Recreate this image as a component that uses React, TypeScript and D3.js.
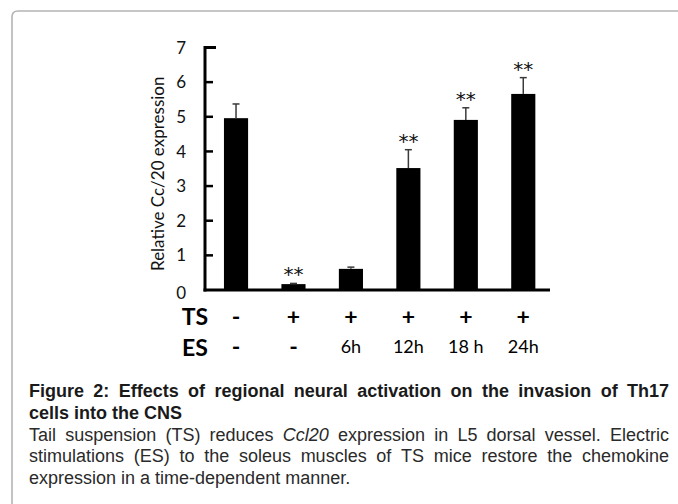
import React, { useMemo } from "react";
import * as d3 from "d3";

const categories = ["c1", "c2", "c3", "c4", "c5", "c6"];
const tsLabels = ["-", "+", "+", "+", "+", "+"];
const esLabels = ["-", "-", "6h", "12h", "18 h", "24h"];
const values = [4.96, 0.17, 0.61, 3.52, 4.91, 5.66];
const errors = [0.41, 0.02, 0.05, 0.53, 0.35, 0.47];
const significant = [false, true, false, true, true, true];
const yTicks = [0, 1, 2, 3, 4, 5, 6, 7];
const yTitle = "Relative Cc/20 expression";

const W = 678;
const H = 504;
const CHART_FONT = "Lato, 'Open Sans', sans-serif";
const CAP_FONT = "'Liberation Sans Narrow', 'Liberation Sans', Arial, sans-serif";

type Word = { t: string; italic?: boolean };

const captionLines: { words: Word[]; bold: boolean; justify: boolean }[] = [
  {
    words: "Figure 2: Effects of regional neural activation on the invasion of Th17".split(" ").map((t) => ({ t })),
    bold: true,
    justify: true,
  },
  { words: "cells into the CNS".split(" ").map((t) => ({ t })), bold: true, justify: false },
  {
    words: "Tail suspension (TS) reduces Ccl20 expression in L5 dorsal vessel. Electric"
      .split(" ")
      .map((t) => ({ t, italic: t === "Ccl20" })),
    bold: false,
    justify: true,
  },
  {
    words: "stimulations (ES) to the soleus muscles of TS mice restore the chemokine".split(" ").map((t) => ({ t })),
    bold: false,
    justify: true,
  },
  { words: "expression in a time-dependent manner.".split(" ").map((t) => ({ t })), bold: false, justify: false },
];

function layoutCaption(x0: number, x1: number, size: number) {
  const canvas = document.createElement("canvas");
  const ctx = canvas.getContext("2d")!;
  return captionLines.map((line) => {
    const widths = line.words.map((w) => {
      ctx.font = `${w.italic ? "italic " : ""}${line.bold ? "bold " : ""}${size}px ${CAP_FONT}`;
      return ctx.measureText(w.t).width;
    });
    ctx.font = `${line.bold ? "bold " : ""}${size}px ${CAP_FONT}`;
    const space = ctx.measureText(" ").width;
    const total = widths.reduce((a, b) => a + b, 0);
    const gap = line.justify && line.words.length > 1 ? (x1 - x0 - total) / (line.words.length - 1) : space;
    let x = x0;
    return line.words.map((w, i) => {
      const pos = x;
      x += widths[i] + gap;
      return { ...w, x: pos };
    });
  });
}

export default function App() {
  const y = d3.scaleLinear().domain([0, 7]).range([290, 47.5]);
  const x = d3
    .scaleBand<string>()
    .domain(categories)
    .range([207.3, 552])
    .paddingInner(0.58)
    .paddingOuter(0.29);
  const bw = x.bandwidth();
  const axisX = 205;
  const capSize = 18;
  const capLayout = useMemo(() => layoutCaption(29, 669, capSize), []);
  const baselines = [397, 418.5, 440.5, 462, 484];

  return (
    <svg
      width={W}
      height={H}
      style={{ position: "absolute", left: 0, top: 0, background: "#fff" }}
    >
      <rect x={0} y={0} width={W} height={H} fill="#fff" />
      {/* frame */}
      <path
        d={`M12,${H + 5} L12,17 Q12,11 18,11 L${W + 5},11`}
        fill="none"
        stroke="#b4b4b4"
        strokeWidth={1.6}
      />

      {/* bars */}
      {categories.map((c, i) => (
        <rect key={c} x={x(c)} y={y(values[i])} width={bw} height={y(0) - y(values[i])} fill="#000" />
      ))}

      {/* error bars */}
      {categories.map((c, i) => {
        const cx = (x(c) as number) + bw / 2;
        const top = y(values[i] + errors[i]);
        return (
          <g key={c} stroke="#3a3a3a" strokeWidth={1.5}>
            <line x1={cx} x2={cx} y1={y(values[i])} y2={top} />
            <line x1={cx - 3.5} x2={cx + 3.5} y1={top} y2={top} />
          </g>
        );
      })}

      {/* significance */}
      {categories.map((c, i) =>
        significant[i] ? (
          <text
            key={c}
            x={(x(c) as number) + bw / 2}
            y={y(values[i] + errors[i]) - 2}
            textAnchor="middle"
            fontFamily="'DejaVu Sans', sans-serif"
            fontSize={20}
            fill="#111"
          >
            **
          </text>
        ) : null
      )}

      {/* axes */}
      <line x1={axisX} x2={axisX} y1={y(0) + 1.5} y2={y(7) - 1.5} stroke="#000" strokeWidth={3} />
      <line x1={axisX - 1.5} x2={550} y1={y(0)} y2={y(0)} stroke="#000" strokeWidth={3} />
      {yTicks.map((t) => (
        <g key={t}>
          {t > 0 && (
            <line
              x1={axisX}
              x2={axisX + (t === 7 ? 11 : 8)}
              y1={y(t)}
              y2={y(t)}
              stroke="#000"
              strokeWidth={t === 7 ? 3 : 2.5}
            />
          )}
          <text
            x={186}
            y={y(t) + (t === 0 ? 3 : 0)}
            dy="0.36em"
            textAnchor="end"
            fontFamily={CHART_FONT}
            fontSize={17}
            fill="#111"
          >
            {t}
          </text>
        </g>
      ))}

      {/* y title */}
      <text
        transform={`translate(164,${(y(0) + y(7)) / 2 + 5}) rotate(-90)`}
        textAnchor="middle"
        fontFamily={CHART_FONT}
        fontSize={17}
        fill="#111"
      >
        {yTitle}
      </text>

      {/* TS / ES rows */}
      <text x={195} y={317} dy="0.35em" textAnchor="middle" fontFamily={CHART_FONT} fontWeight="bold" fontSize={23} fill="#000">
        TS
      </text>
      <text x={195} y={348} dy="0.35em" textAnchor="middle" fontFamily={CHART_FONT} fontWeight="bold" fontSize={23} fill="#000">
        ES
      </text>
      {categories.map((c, i) => (
        <text
          key={"ts" + c}
          x={(x(c) as number) + bw / 2}
          y={317}
          dy="0.35em"
          textAnchor="middle"
          fontFamily={CHART_FONT}
          fontWeight="bold"
          fontSize={23}
          fill="#000"
        >
          {tsLabels[i]}
        </text>
      ))}
      {categories.map((c, i) => {
        const isDash = esLabels[i] === "-";
        return (
          <text
            key={"es" + c}
            x={(x(c) as number) + bw / 2}
            y={347}
            dy="0.35em"
            textAnchor="middle"
            fontFamily={CHART_FONT}
            fontWeight={isDash ? "bold" : "normal"}
            fontSize={isDash ? 23 : 18}
            fill="#000"
          >
            {esLabels[i]}
          </text>
        );
      })}

      {/* caption */}
      {capLayout.map((words, li) => (
        <g key={li}>
          {words.map((w, wi) => (
            <text
              key={wi}
              x={w.x}
              y={baselines[li]}
              fontFamily={CAP_FONT}
              fontSize={capSize}
              fontWeight={captionLines[li].bold ? "bold" : "normal"}
              fontStyle={w.italic ? "italic" : "normal"}
              fill={captionLines[li].bold ? "#1a1a1a" : "#2a2a2a"}
            >
              {w.t}
            </text>
          ))}
        </g>
      ))}
    </svg>
  );
}
